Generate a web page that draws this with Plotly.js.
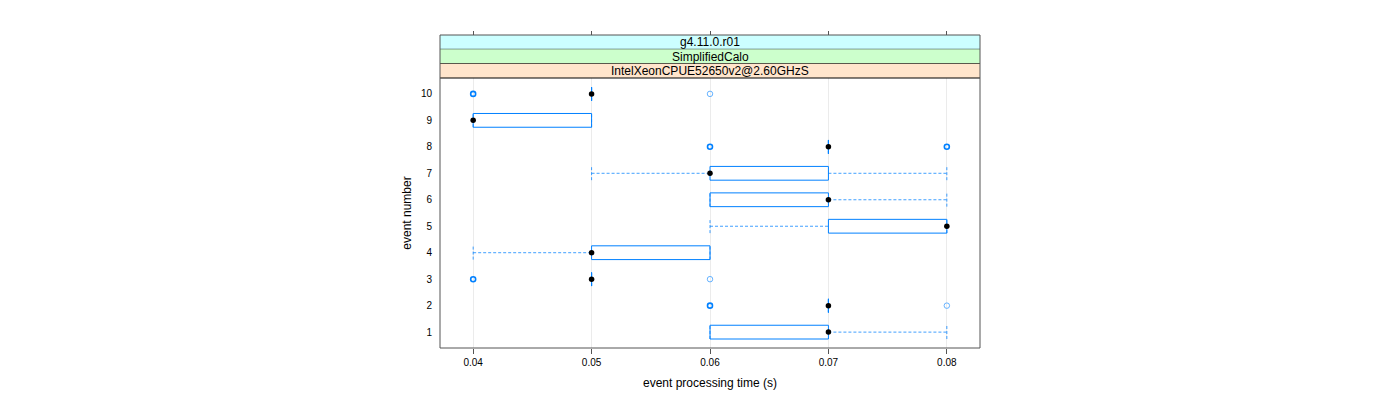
<!DOCTYPE html>
<html>
<head>
<meta charset="utf-8">
<script src="https://cdn.plot.ly/plotly-3.0.1.min.js"></script>
<style>html,body{margin:0;padding:0;background:#fff;}#chart{width:1400px;height:400px;}</style>
</head>
<body>
<div id="chart"></div>
<script>
// ---- data ----
var events      = [1, 2, 3, 4, 5, 6, 7, 8, 9, 10];
var whiskerLow  = [0.06, 0.07, 0.05, 0.04, 0.06, 0.06, 0.05, 0.07, 0.04, 0.05];
var lowerQuart  = [0.06, 0.07, 0.05, 0.05, 0.07, 0.06, 0.06, 0.07, 0.04, 0.05];
var medians     = [0.07, 0.07, 0.05, 0.05, 0.08, 0.07, 0.06, 0.07, 0.04, 0.05];
var upperQuart  = [0.07, 0.07, 0.05, 0.06, 0.08, 0.07, 0.07, 0.07, 0.05, 0.05];
var whiskerHigh = [0.08, 0.07, 0.05, 0.06, 0.08, 0.08, 0.08, 0.07, 0.05, 0.05];
// outliers: event, time, how many overlapping points
var outlierEvent = [2, 2, 3, 3, 8, 8, 10, 10];
var outlierTime  = [0.06, 0.08, 0.04, 0.06, 0.06, 0.08, 0.04, 0.06];
var outlierCount = [3, 1, 3, 1, 3, 3, 3, 1];
var xTicks = [0.04, 0.05, 0.06, 0.07, 0.08];
var xTickText = ["0.04", "0.05", "0.06", "0.07", "0.08"];
var stripLabels = ["g4.11.0.r01", "SimplifiedCalo", "IntelXeonCPUE52650v2@2.60GHzS"];
var stripColors = ["#ccffff", "#ccffcc", "#ffe5cc"];

(function () {
  // ---- style ----
  var half = 0.26;         // half box height in y units
  var blue = "#0080ff";
  var panelFrac = 270 / 313;
  var xRange = [0.0372, 0.0828];

  var bx = [], by = [], wx = [], wy = [];
  for (var i = 0; i < events.length; i++) {
    var e = events[i];
    bx.push(lowerQuart[i], upperQuart[i], upperQuart[i], lowerQuart[i], lowerQuart[i], null);
    by.push(e - half, e - half, e + half, e + half, e - half, null);
    wx.push(whiskerLow[i], lowerQuart[i], null, upperQuart[i], whiskerHigh[i], null);
    wy.push(e, e, null, e, e, null);
    wx.push(whiskerLow[i], whiskerLow[i], null, whiskerHigh[i], whiskerHigh[i], null);
    wy.push(e - half, e + half, null, e - half, e + half, null);
  }

  var boldX = [], boldY = [], lightX = [], lightY = [];
  for (var j = 0; j < outlierEvent.length; j++) {
    if (outlierCount[j] > 1) { boldX.push(outlierTime[j]); boldY.push(outlierEvent[j]); }
    else { lightX.push(outlierTime[j]); lightY.push(outlierEvent[j]); }
  }

  var traces = [
    {x: wx, y: wy, type: "scatter", mode: "lines", line: {color: "rgba(0,128,255,0.75)", width: 1, dash: "3px,2px"}, hoverinfo: "skip", showlegend: false},
    {x: bx, y: by, type: "scatter", mode: "lines", line: {color: blue, width: 1}, hoverinfo: "skip", showlegend: false},
    {x: boldX, y: boldY, type: "scatter", mode: "markers", marker: {symbol: "circle-open", size: 5, color: blue, line: {width: 1.6, color: blue}}, showlegend: false},
    {x: lightX, y: lightY, type: "scatter", mode: "markers", marker: {symbol: "circle-open", size: 5.5, color: "#66b3ff", line: {width: 1, color: "#66b3ff"}}, showlegend: false},
    {x: medians, y: events, type: "scatter", mode: "markers", marker: {symbol: "circle", size: 5.5, color: "#000"}, showlegend: false},
    {x: [xTicks[0]], y: [events[0]], xaxis: "x2", yaxis: "y", type: "scatter", mode: "markers", marker: {opacity: 0}, hoverinfo: "skip", showlegend: false}
  ];

  var shapes = [];
  var annotations = [];
  var sh = (1 - panelFrac) / stripLabels.length;
  for (var k = 0; k < stripLabels.length; k++) {
    var yTop = 1 - k * sh, yBot = 1 - (k + 1) * sh;
    shapes.push({type: "rect", xref: "paper", yref: "paper", x0: 0, x1: 1, y0: yBot, y1: yTop, fillcolor: stripColors[k], line: {width: 0}, layer: "above"});
    shapes.push({type: "line", xref: "paper", yref: "paper", x0: 0, x1: 1, y0: yBot, y1: yBot, line: {color: "#000", width: 1}, layer: "above"});
    annotations.push({xref: "paper", yref: "paper", x: 0.5, y: (yTop + yBot) / 2, text: stripLabels[k], showarrow: false, xanchor: "center", yanchor: "middle", font: {family: "Liberation Sans, Arial, sans-serif", size: 12, color: "#000"}});
  }
  shapes.push({type: "rect", xref: "paper", yref: "paper", x0: 0, x1: 1, y0: 0, y1: 1, line: {color: "#555", width: 1}, layer: "above"});

  var layout = {
    width: 1400, height: 400,
    margin: {l: 440, r: 420, t: 35, b: 52, pad: 0},
    paper_bgcolor: "#fff", plot_bgcolor: "#fff",
    font: {family: "Liberation Sans, Arial, sans-serif", size: 10, color: "#000"},
    showlegend: false,
    xaxis: {
      range: xRange, tickvals: xTicks, ticktext: xTickText,
      ticks: "outside", ticklen: 5, tickcolor: "#555", tickwidth: 1,
      showgrid: true, gridcolor: "#ebebeb", gridwidth: 1, zeroline: false, showline: false,
      tickfont: {size: 10},
      title: {text: "event processing time (s)", font: {size: 12}, standoff: 11},
      anchor: "y"
    },
    xaxis2: {
      overlaying: "x", range: xRange, anchor: "free", position: 1, side: "top",
      tickvals: xTicks, ticks: "outside", ticklen: 4, tickcolor: "#555",
      showticklabels: false, showgrid: false, zeroline: false, showline: false
    },
    yaxis: {
      domain: [0, panelFrac], range: [0.4, 10.6], tickvals: events,
      ticks: "outside", ticklen: 5, tickcolor: "rgba(0,0,0,0)",
      showgrid: false, zeroline: false, showline: false,
      tickfont: {size: 10},
      title: {text: "event number", font: {size: 12}, standoff: 6}
    },
    shapes: shapes,
    annotations: annotations
  };

  Plotly.newPlot("chart", traces, layout, {staticPlot: true, displayModeBar: false});
})();
</script>
</body>
</html>
